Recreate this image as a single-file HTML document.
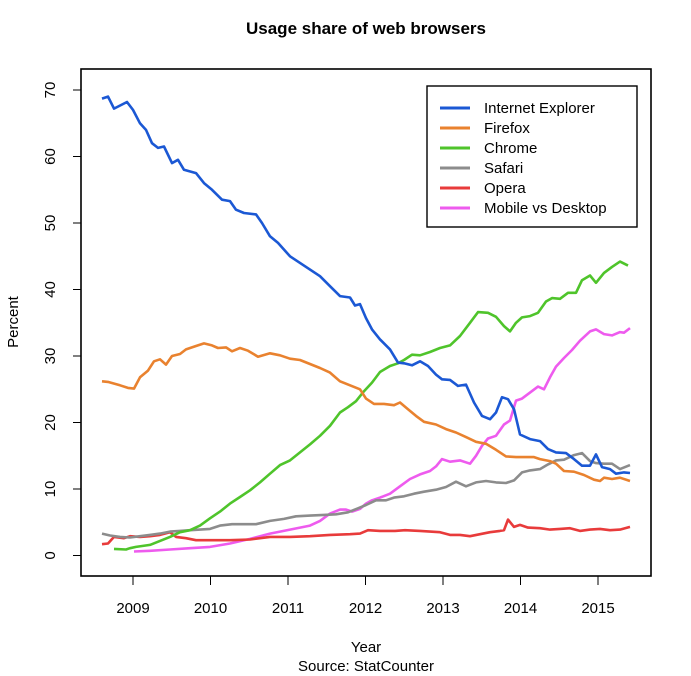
<!DOCTYPE html>
<html><head><style>
body{margin:0;background:#fff;}
svg{display:block;font-family:"Liberation Sans",Arial,sans-serif;}
</style></head><body>
<svg id="s" width="691" height="676" xmlns="http://www.w3.org/2000/svg">
<rect width="691" height="676" fill="#fff"/>
<text x="366" y="34" text-anchor="middle" font-size="17" font-weight="bold">Usage share of web browsers</text>
<rect x="81" y="69" width="570" height="507" fill="none" stroke="#000" stroke-width="1.6"/>
<g id="yt" stroke="#000" stroke-width="1"></g>
<g id="lines" fill="none" stroke-width="2.6" stroke-linejoin="round"></g>
<text x="366" y="652" text-anchor="middle" font-size="15">Year</text>
<text x="366" y="671" text-anchor="middle" font-size="15">Source: StatCounter</text>
<text transform="translate(18,322) rotate(-90)" text-anchor="middle" font-size="15">Percent</text>
<rect x="427" y="86" width="210" height="141" fill="#fff" stroke="#000" stroke-width="1.4"/>
<g id="leg" font-size="15"></g>
</svg>
<script>
var NS="http://www.w3.org/2000/svg",s=document.getElementById('s');
function el(p,t,a,txt){var e=document.createElementNS(NS,t);for(var k in a)e.setAttribute(k,a[k]);if(txt)e.textContent=txt;p.appendChild(e);return e;}
function Y(v){return 555.5-6.65*v;}
var yt=document.getElementById('yt');
for(var v=0;v<=70;v+=10){var y=Y(v);el(yt,'line',{x1:73,x2:81,y1:y,y2:y});
el(s,'text',{transform:'translate(55,'+y+') rotate(-90)','text-anchor':'middle','font-size':15,stroke:'none'},String(v));}
for(var yr=2009;yr<=2015;yr++){var x=133+(yr-2009)*77.5;el(s,'line',{x1:x,x2:x,y1:576,y2:585,stroke:'#000'});
el(s,'text',{x:x,y:613,'text-anchor':'middle','font-size':15},String(yr));}
var D={
ie:[102,68.7,108,69,114,67.2,127,68.2,133,67,140,65,146,64,152,62,158,61.3,164,61.5,172,59,178,59.5,184,58,196,57.5,204,56,212,55,222,53.5,230,53.3,236,52,244,51.5,256,51.3,262,50,270,48,278,47,290,45,300,44,310,43,320,42,330,40.5,340,39,350,38.8,355,37.6,360,37.8,366,35.7,372,34,380,32.5,390,31,398,29,404,28.9,412,28.6,420,29.2,428,28.5,436,27.2,442,26.5,450,26.4,458,25.5,466,25.7,474,23,482,21,490,20.5,496,21.5,502,23.8,508,23.5,514,22,520,18.2,530,17.5,540,17.2,548,16,556,15.5,566,15.4,574,14.5,582,13.5,590,13.5,596,15.2,602,13.3,610,13,616,12.3,624,12.5,630,12.4],
ff:[102,26.2,108,26.1,120,25.6,128,25.2,134,25.1,140,26.8,148,27.8,154,29.2,160,29.5,166,28.7,172,30,180,30.3,186,31,196,31.5,204,31.9,212,31.6,218,31.2,226,31.3,232,30.7,240,31.2,248,30.8,258,29.9,270,30.4,280,30.1,290,29.6,300,29.4,310,28.8,320,28.2,330,27.5,340,26.2,350,25.6,360,25,366,23.6,374,22.8,384,22.8,394,22.6,400,23,408,22,416,21,424,20.1,436,19.7,446,19,456,18.5,466,17.8,476,17.1,486,16.8,496,15.9,506,14.9,516,14.8,526,14.8,534,14.8,540,14.5,550,14.2,556,13.8,564,12.7,574,12.6,584,12.1,594,11.4,600,11.2,604,11.7,612,11.5,620,11.7,630,11.2],
ch:[114,1.0,126,0.9,130,1.1,136,1.3,150,1.6,160,2.2,170,2.8,180,3.5,190,3.8,200,4.5,210,5.6,220,6.6,230,7.8,240,8.8,250,9.8,260,11,270,12.3,280,13.6,290,14.3,300,15.5,310,16.7,320,18,330,19.5,340,21.5,348,22.3,356,23.2,364,24.7,372,26,380,27.6,390,28.5,398,28.9,404,29.4,412,30.2,420,30.1,430,30.6,440,31.2,450,31.6,460,33,470,35,478,36.6,488,36.5,496,35.9,504,34.5,510,33.7,516,35,522,35.8,530,36,538,36.5,546,38.2,552,38.7,560,38.6,568,39.5,576,39.5,582,41.4,590,42.1,596,41,604,42.5,612,43.4,620,44.2,628,43.6],
sa:[102,3.3,110,3,120,2.8,130,2.7,140,2.9,150,3.1,160,3.3,170,3.6,180,3.7,190,3.8,200,3.9,210,4,220,4.5,232,4.7,244,4.7,256,4.7,270,5.2,284,5.5,296,5.9,310,6,324,6.1,336,6.2,348,6.5,358,7.1,366,7.6,376,8.3,386,8.3,394,8.7,404,8.9,414,9.3,424,9.6,436,9.9,446,10.3,456,11.1,466,10.4,476,11,486,11.2,496,11,506,10.9,514,11.3,522,12.5,530,12.8,540,13,548,13.7,556,14.3,564,14.4,574,15.1,582,15.4,590,14.2,596,13.9,604,13.8,612,13.8,620,13,630,13.6],
op:[102,1.7,108,1.8,114,2.8,124,2.6,130,2.9,140,2.8,150,2.9,160,3.1,170,3.5,176,2.8,186,2.6,196,2.3,210,2.3,230,2.3,250,2.4,270,2.8,290,2.8,310,2.9,330,3.1,350,3.2,360,3.3,368,3.8,380,3.7,395,3.7,405,3.8,420,3.7,440,3.5,450,3.1,460,3.1,470,2.9,480,3.2,490,3.5,500,3.7,504,3.8,508,5.4,514,4.3,520,4.6,528,4.2,540,4.1,550,3.9,560,4,570,4.1,580,3.7,590,3.9,600,4,610,3.8,620,3.9,630,4.3],
mo:[134,0.6,150,0.7,170,0.9,190,1.1,210,1.3,230,1.8,250,2.5,270,3.3,290,3.9,310,4.5,320,5.2,330,6.3,340,6.9,346,6.9,352,6.6,360,7,366,7.8,372,8.3,380,8.7,390,9.3,400,10.4,410,11.5,420,12.2,430,12.7,436,13.4,442,14.5,450,14.1,460,14.3,470,13.8,476,15,482,16.5,488,17.6,496,18,504,19.7,510,20.3,516,23.3,522,23.6,530,24.5,538,25.4,544,25,550,26.8,556,28.4,564,29.7,572,30.9,580,32.3,590,33.7,596,34,604,33.3,612,33.1,620,33.6,624,33.5,630,34.2]};
var S=[['ie','#1b58d4','Internet Explorer'],['ff','#e9822f','Firefox'],['ch','#4fc42b','Chrome'],['sa','#8c8c8c','Safari'],['op','#e83b3b','Opera'],['mo','#ee5bee','Mobile vs Desktop']];
var L=document.getElementById('lines'),G=document.getElementById('leg');
var order=['mo','op','sa','ch','ff','ie'];
order.forEach(function(k){var c=S.filter(function(q){return q[0]==k})[0][1];var a=D[k],p=[];for(var i=0;i<a.length;i+=2)p.push(a[i]+','+Y(a[i+1]).toFixed(1));el(L,'polyline',{points:p.join(' '),stroke:c});});
S.forEach(function(q,i){var y=108+i*20;el(G,'line',{x1:440,x2:470,y1:y,y2:y,stroke:q[1],'stroke-width':3});el(G,'text',{x:484,y:y+5},q[2]);});
</script>
</body></html>
